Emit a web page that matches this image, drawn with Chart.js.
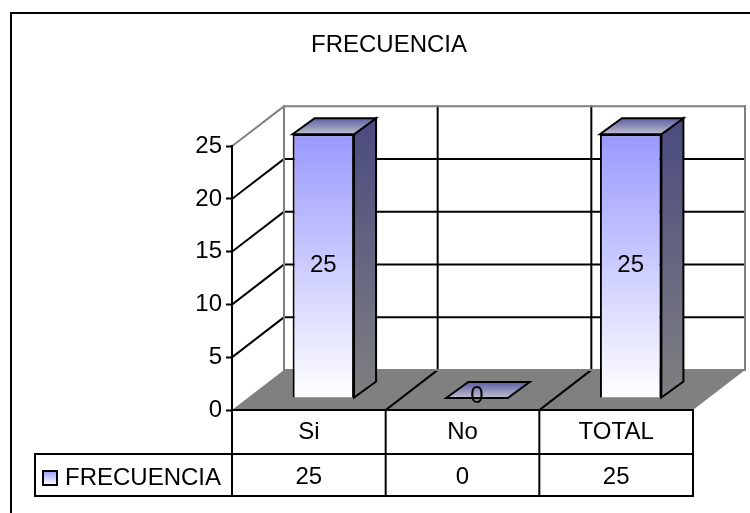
<!DOCTYPE html>
<html lang="es">
<head>
  <meta charset="UTF-8" />
  <title>FRECUENCIA</title>
  <script src="https://cdn.jsdelivr.net/npm/chart.js"></script>
  <style>
    html, body {
      margin: 0;
      padding: 0;
      background: #ffffff;
    }

    #chart-container {
      width: 750px;
      height: 513px;
      position: relative;
    }
  </style>
</head>
<body>
  <div id="chart-container">
    <canvas id="myChart"></canvas>
  </div>

  <script>
    const categories = ['Si', 'No', 'TOTAL'];
    const frecuencia = [25, 0, 25];
    const seriesName = 'FRECUENCIA';
    const yMax = 25;
    const yStep = 5;

    const FONT = '24px "Liberation Sans", Arial, sans-serif';
    const WALL_DX = 52, WALL_DY = 40;   // how far the back wall sits from the front plane
    const BAR_SHIFT_X = 14.5, BAR_SHIFT_Y = 12;   // bars stand part way into the floor
    const BAR_DX = 22, BAR_DY = 16;   // bar depth

    function line(ctx, x1, y1, x2, y2) {
      ctx.beginPath();
      ctx.moveTo(x1, y1);
      ctx.lineTo(x2, y2);
      ctx.stroke();
    }

    function poly(ctx, pts, fill, stroke) {
      ctx.beginPath();
      pts.forEach((p, i) => i ? ctx.lineTo(p[0], p[1]) : ctx.moveTo(p[0], p[1]));
      ctx.closePath();
      if (fill) {
        ctx.fillStyle = fill;
        ctx.fill();
      }
      if (stroke) {
        ctx.strokeStyle = stroke;
        ctx.lineWidth = 2;
        ctx.stroke();
      }
    }

    function columnEdges(x) {
      const w = x.width / categories.length;
      return categories.map((c, i) => x.left + i * w).concat(x.right);
    }

    // floor, back wall, left wall and their grid
    const wallsPlugin = {
      id: 'walls',
      beforeDraw(chart) {
        const { ctx, scales: { x, y } } = chart;
        const edges = columnEdges(x);
        const y0 = y.getPixelForValue(0);
        const yTop = y.getPixelForValue(yMax);
        const backL = x.left + WALL_DX;
        const backR = x.right + WALL_DX;

        ctx.save();
        ctx.lineCap = 'square';
        poly(ctx, [[x.left, y0], [x.right, y0], [backR, y0 - WALL_DY], [backL, y0 - WALL_DY]], '#808080');

        ctx.strokeStyle = '#000000';
        ctx.lineWidth = 2;
        for (let v = yStep; v < yMax; v += yStep) {
          const py = y.getPixelForValue(v);
          line(ctx, x.left, py, backL, py - WALL_DY);
          line(ctx, backL, py - WALL_DY, backR, py - WALL_DY);
        }
        edges.slice(1, -1).forEach(ex => {
          line(ctx, ex, y0, ex + WALL_DX, y0 - WALL_DY);
          line(ctx, ex + WALL_DX, y0 - WALL_DY, ex + WALL_DX, yTop - WALL_DY);
        });

        ctx.strokeStyle = '#808080';
        line(ctx, x.left, yTop, backL, yTop - WALL_DY);
        line(ctx, backL, yTop - WALL_DY, backR, yTop - WALL_DY);
        line(ctx, backL, yTop - WALL_DY, backL, y0 - WALL_DY);
        line(ctx, backR, yTop - WALL_DY, backR, y0 - WALL_DY);
        line(ctx, backL, y0 - WALL_DY, backR, y0 - WALL_DY);
        ctx.restore();
      }
    };

    // bar side and top faces, and the shift of each bar into the floor
    const barsPlugin = {
      id: 'bars3d',
      beforeDatasetDraw(chart, args) {
        const { ctx, scales: { y } } = chart;
        ctx.save();
        ctx.translate(BAR_SHIFT_X, -BAR_SHIFT_Y);
        args.meta.data.forEach(bar => {
          const l = bar.x - bar.width / 2;
          const r = bar.x + bar.width / 2;
          const top = bar.y;
          const base = bar.base;

          if (base - top > 1) {
            const side = ctx.createLinearGradient(0, y.getPixelForValue(yMax) - BAR_DY, 0, y.getPixelForValue(0));
            side.addColorStop(0, '#4a4a80');
            side.addColorStop(1, '#808080');
            poly(ctx, [[r, top], [r + BAR_DX, top - BAR_DY], [r + BAR_DX, base - BAR_DY], [r, base]], side, '#000000');
          }

          const cap = ctx.createLinearGradient(0, top - BAR_DY, 0, top);
          cap.addColorStop(0, '#5c5ca6');
          cap.addColorStop(1, '#c0c0cc');
          poly(ctx, [[l, top], [r, top], [r + BAR_DX, top - BAR_DY], [l + BAR_DX, top - BAR_DY]], cap, '#000000');
        });
      },
      afterDatasetDraw(chart) {
        chart.ctx.restore();
      },
      afterDatasetsDraw(chart) {
        const { ctx } = chart;
        ctx.save();
        ctx.font = FONT;
        ctx.fillStyle = '#000000';
        ctx.textAlign = 'center';
        ctx.textBaseline = 'middle';
        chart.getDatasetMeta(0).data.forEach((bar, i) => {
          ctx.fillText(String(frecuencia[i]), bar.x + BAR_SHIFT_X, (bar.y + bar.base) / 2 - BAR_SHIFT_Y - (frecuencia[i] ? 0 : 2));
        });
        ctx.restore();
      }
    };

    // data table under the axis, plus the frame round the chart
    const tablePlugin = {
      id: 'dataTable',
      afterDraw(chart) {
        const { ctx, scales: { x, y } } = chart;
        const edges = columnEdges(x);
        const y0 = y.getPixelForValue(0);
        const rowMid = y0 + 44;
        const rowEnd = y0 + 86;
        const tableLeft = 35;

        ctx.save();
        ctx.strokeStyle = '#000000';
        ctx.lineWidth = 2;
        ctx.lineCap = 'square';
        line(ctx, x.left, y0, x.right, y0);
        line(ctx, tableLeft, rowMid, x.right, rowMid);
        line(ctx, tableLeft, rowEnd, x.right, rowEnd);
        line(ctx, tableLeft, rowMid, tableLeft, rowEnd);
        edges.forEach(ex => line(ctx, ex, y0, ex, rowEnd));

        ctx.font = FONT;
        ctx.fillStyle = '#000000';
        ctx.textBaseline = 'middle';
        ctx.textAlign = 'center';
        frecuencia.forEach((v, i) => ctx.fillText(String(v), x.getPixelForValue(i), rowMid + 23));
        ctx.textAlign = 'left';
        ctx.fillText(seriesName, 65, rowMid + 24);

        const swatch = ctx.createLinearGradient(0, rowMid + 17, 0, rowMid + 31);
        swatch.addColorStop(0, '#9999ff');
        swatch.addColorStop(1, '#ffffff');
        ctx.fillStyle = swatch;
        ctx.fillRect(43, rowMid + 17, 14, 14);
        ctx.strokeRect(43, rowMid + 17, 14, 14);

        // frame: only the top and left edges fall inside the window
        line(ctx, 11, 13, 760, 13);
        line(ctx, 11, 13, 11, 520);
        ctx.restore();
      }
    };

    new Chart(document.getElementById('myChart').getContext('2d'), {
      type: 'bar',
      data: {
        labels: categories,
        datasets: [{
          label: seriesName,
          data: frecuencia,
          categoryPercentage: 1,
          barPercentage: 0.4,
          borderColor: '#000000',
          borderWidth: 2,
          backgroundColor: ctx => {
            const { chartArea, ctx: c, scales } = ctx.chart;
            if (!chartArea) return '#9999ff';
            const g = c.createLinearGradient(0, scales.y.getPixelForValue(yMax), 0, scales.y.getPixelForValue(0));
            g.addColorStop(0, '#9999ff');
            g.addColorStop(1, '#ffffff');
            return g;
          }
        }]
      },
      plugins: [wallsPlugin, barsPlugin, tablePlugin],
      options: {
        responsive: true,
        maintainAspectRatio: false,
        animation: false,
        layout: { padding: { left: 85, right: 57, top: 0, bottom: 0 } },
        plugins: {
          legend: { display: false },
          tooltip: { enabled: false },
          title: {
            display: true,
            text: 'FRECUENCIA',
            color: '#000000',
            font: { family: '"Liberation Sans", Arial, sans-serif', size: 24, weight: 'normal' },
            padding: { top: 31, bottom: 86.4 }
          }
        },
        scales: {
          x: {
            afterFit: scale => { scale.height = 103; },
            grid: { display: false },
            border: { display: false },
            ticks: {
              color: '#000000',
              autoSkip: false,
              maxRotation: 0,
              padding: 0,
              font: { family: '"Liberation Sans", Arial, sans-serif', size: 24 }
            }
          },
          y: {
            min: 0,
            max: yMax,
            afterFit: scale => { scale.width = 147; },
            border: { color: '#000000', width: 2 },
            grid: { drawOnChartArea: false, drawTicks: true, tickLength: 6, tickColor: '#000000', tickWidth: 2 },
            ticks: {
              stepSize: yStep,
              color: '#000000',
              padding: 4,
              font: { family: '"Liberation Sans", Arial, sans-serif', size: 24 }
            }
          }
        }
      }
    });
  </script>
</body>
</html>
